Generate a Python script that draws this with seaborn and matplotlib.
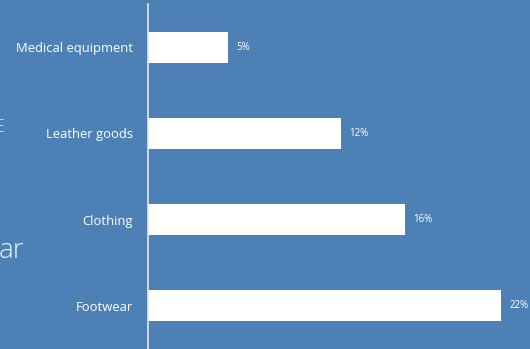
import matplotlib
matplotlib.use("Agg")
import matplotlib.pyplot as plt
import seaborn as sns
import pandas as pd

categories = ["Medical equipment", "Leather goods", "Clothing", "Footwear"]
values = [5, 12, 16, 22]
value_labels = ["5%", "12%", "16%", "22%"]

BG = "#4d80b5"
sns.set_theme(style="white")
plt.rcParams['font.family'] = ['Open Sans', 'DejaVu Sans']

df = pd.DataFrame({"category": categories, "value": values})

fig = plt.figure(figsize=(5.30, 3.49), dpi=100, facecolor=BG)
ax = fig.add_axes([148/530, 0.0, 1 - 148/530, 345/349])
ax.set_facecolor(BG)

sns.barplot(data=df, y="category", x="value", order=categories, color="white",
            width=0.36, saturation=1, ax=ax, orient="h", edgecolor="none")

ax.set_xlim(0, (530 - 148) / 16.05)
ax.set_ylim(3.5, -0.5)
for s in ["top", "right", "bottom"]:
    ax.spines[s].set_visible(False)
ax.spines["left"].set_color("#e6e6e6")
ax.spines["left"].set_linewidth(1.2)
ax.set_xticks([])
ax.set_xlabel("")
ax.set_ylabel("")
ax.tick_params(axis="y", length=0, pad=11, labelsize=9.4, labelcolor="white")

for i, (v, lab) in enumerate(zip(values, value_labels)):
    ax.annotate(lab, xy=(v, i), xytext=(6, 0), textcoords="offset points",
                va="center", ha="left", color="white", fontsize=7)

fig.text(-0.002, 1 - 258/349, "ar", color="#e8eef6", fontsize=20, fontweight="light",
         ha="left", va="baseline")
fig.text(5/530, 1 - 132/349, "E", color="#e8eef6", fontsize=14, fontweight="light",
         ha="right", va="baseline")

fig.savefig("out.png", dpi=100, facecolor=BG)
